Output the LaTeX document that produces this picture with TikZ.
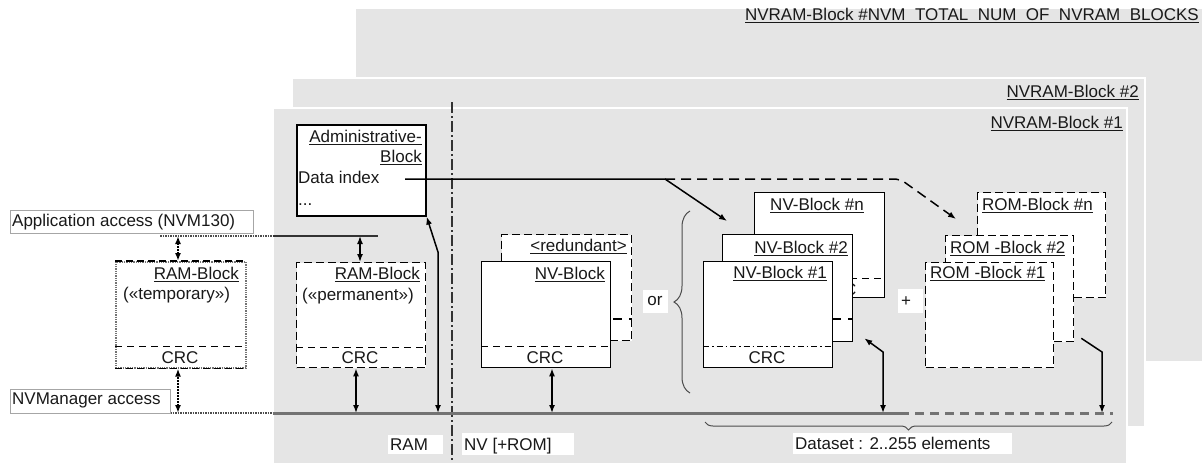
\documentclass[tikz,border=0pt]{standalone}
\usepackage{fontspec}
\setmainfont{Liberation Sans}
\usetikzlibrary{arrows.meta,decorations.pathreplacing}
\newsavebox\ulbox
\newcommand\ulin[1]{\sbox\ulbox{#1}\rlap{\rule[-2.8pt]{\wd\ulbox}{1.3pt}}\usebox\ulbox}
\begin{document}
\begin{tikzpicture}[x=1pt,y=-1pt,
  panel/.style={fill=black!10, draw=white, line width=1.5pt},
  blk/.style={draw=black, fill=white, line width=1.3pt, inner sep=0pt, anchor=north west},
  dblk/.style={blk, dash pattern=on 8pt off 4pt},
  txt/.style={inner sep=0pt, font=\fontsize{17}{20}\selectfont, text=black!90},
  lbox/.style={fill=white, draw=none, inner sep=0pt, anchor=north west},
  crcdash/.style={line width=1.2pt, dash pattern=on 7pt off 5pt},
  crcdot/.style={line width=1.2pt, dash pattern=on 6pt off 3pt on 1.5pt off 3pt},
  thickdash/.style={line width=2.5pt, dash pattern=on 9pt off 7pt},
  conn/.style={line width=1.5pt, {Latex[length=8pt,width=6pt]}-{Latex[length=8pt,width=6pt]}},
  conn1/.style={line width=1.5pt, -{Latex[length=8pt,width=6pt]}},
  dconn/.style={line width=2pt, densely dotted, {Latex[length=8pt,width=6pt]}-{Latex[length=8pt,width=6pt]}},
  busline/.style={line width=3pt, black!55},
  sepline/.style={line width=1.3pt, black!80, dash pattern=on 11pt off 3pt on 2pt off 3pt},
  brc/.style={decorate, line width=1pt, black!70}
]
\useasboundingbox (0,0) rectangle (1203,463);
% panels
\path[panel] (355,8) rectangle (1203,362);
\path[panel] (292,78) rectangle (1145,427);
\path[panel] (273,108) rectangle (1127,466);
\node[txt, anchor=base east] (p3l) at (1199,20) {\ulin{NVRAM-Block \#NVM\ \ TOTAL\ \ NUM\ \ OF\ \ NVRAM\ \ BLOCKS}};
\node[txt, anchor=base east] (p2l) at (1139,97) {\ulin{NVRAM-Block \#2}};
\node[txt, anchor=base east] (p1l) at (1123,128) {\ulin{NVRAM-Block \#1}};
% separator RAM / NV
\coordinate (sepT) at (452,102);
\coordinate (sepB) at (452,466);
\draw[sepline] (sepT) -- (sepB);
% bus lines
\coordinate (bus0) at (160,413);
\coordinate (bus1) at (273,413);
\coordinate (bus2) at (900,413);
\coordinate (bus3) at (1113,413);
\draw[line width=1.5pt, densely dotted, black!70] (bus0) -- (bus1);
\draw[busline] (bus1) -- (bus2);
\draw[busline, dash pattern=on 9pt off 6pt] (bus2) -- (bus3);
\coordinate (app0) at (160,236);
\coordinate (app1) at (273,236);
\coordinate (app2) at (378,236);
\draw[line width=1.5pt, densely dotted, black!70] (app0) -- (app1);
\draw[line width=1.5pt, black!80] (app1) -- (app2);
% access labels
\node[lbox, draw=black!35, line width=0.8pt, minimum width=243pt, minimum height=23pt] (appbox) at (10,210) {};
\node[txt, anchor=base west] (appT) at (12,226) {Application access (NVM130)};
\node[lbox, draw=black!35, line width=0.8pt, minimum width=160pt, minimum height=24pt] (nvmbox) at (10,389) {};
\node[txt, anchor=base west] (nvmT) at (12,404) {NVManager access};
% RAM block temporary
\node[blk, draw=black!55, densely dotted, line width=1.6pt, minimum width=130pt, minimum height=106pt] (temp) at (115,261) {};
\draw[line width=1.3pt, dash pattern=on 7pt off 4pt] (temp.north west) -- (temp.north east);
\draw[line width=1.3pt, dash pattern=on 7pt off 4pt] (temp.south west) -- (temp.south east);
\draw[crcdash] ([yshift=22pt]temp.south west) -- ([yshift=22pt]temp.south east);
\node[txt, anchor=base east] (tempT1) at (239,279) {\ulin{RAM-Block}};
\node[txt, anchor=base west] (tempT2) at (123,299) {(«temporary»)};
\node[txt, anchor=base] (tempC) at (180,363) {CRC};
\coordinate (tA) at (178,236);
\coordinate (tB) at (178,413);
\draw[dconn] (tA) -- (tA |- temp.north);
\draw[dconn] (tB) -- (tB |- temp.south);
% RAM block permanent
\node[dblk, minimum width=129pt, minimum height=105pt] (perm) at (296,262) {};
\draw[crcdash] ([yshift=21pt]perm.south west) -- ([yshift=21pt]perm.south east);
\node[txt, anchor=base east] (permT1) at (420,279) {\ulin{RAM-Block}};
\node[txt, anchor=base west] (permT2) at (302,300) {(«permanent»)};
\node[txt, anchor=base] (permC) at (360,363) {CRC};
\coordinate (pA) at (360,236);
\coordinate (pB) at (356,413);
\draw[conn] (pA) -- (pA |- perm.north);
\draw[conn] (pB) -- (pB |- perm.south);
% Administrative block
\node[blk, line width=1.6pt, minimum width=129pt, minimum height=91pt] (admin) at (296,124) {};
\node[txt, anchor=base east] (admT1) at (422,142) {\ulin{Administrative-}};
\node[txt, anchor=base east] (admT2) at (422,162) {\ulin{Block}};
\node[txt, anchor=base west] (admT3) at (298,183) {Data index};
\node[txt, anchor=base west] (admT4) at (298,205) {...};
\coordinate (aB) at (438,413);
\coordinate (aK) at (438,252);
\draw[conn] (aB) -- (aK) -- (admin.south east);
% redundant NV block
\node[dblk, minimum width=130pt, minimum height=106pt] (red) at (501,234) {};
\node[txt, anchor=base east] (redT) at (627,251) {\ulin{<redundant>}};
\draw[thickdash] (red.west |- 0,319) -- (red.east |- 0,319);
\node[blk, minimum width=129pt, minimum height=106pt] (nvs) at (481,261) {};
\node[txt, anchor=base east] (nvsT) at (605,279) {\ulin{NV-Block}};
\draw[crcdash] ([yshift=22pt]nvs.south west) -- ([yshift=22pt]nvs.south east);
\node[txt, anchor=base] (nvsC) at (545,363) {CRC};
\coordinate (nB) at (552,413);
\draw[conn] (nB) -- (nB |- nvs.south);
% or
\node[lbox, minimum width=25pt, minimum height=23pt] (orbox) at (643,290) {};
\node[txt] (orT) at (655,301) {or};
\coordinate (brT) at (690,211);
\coordinate (brB) at (690,393);
\draw[brc, decoration={brace, amplitude=16pt}] (brB) -- (brT);
% NV block stack
\node[blk, minimum width=130pt, minimum height=105pt] (nvn) at (754,192) {};
\node[txt, anchor=base] (nvnT) at (817,210) {\ulin{NV-Block \#n}};
\draw[crcdash] ([yshift=20pt]nvn.south west) -- ([yshift=20pt]nvn.south east);
\node[txt, anchor=base] (nvnC) at (838,295) {CRC};
\node[blk, minimum width=130pt, minimum height=107pt] (nv2) at (722,234) {};
\node[txt, anchor=base east] (nv2T) at (848,253) {\ulin{NV-Block \#2}};
\draw[thickdash, dash phase=2pt] (nv2.west |- 0,319) -- (nv2.east |- 0,319);
\node[blk, minimum width=129pt, minimum height=106pt] (nv1) at (703,261) {};
\node[txt, anchor=base east] (nv1T) at (827,278) {\ulin{NV-Block \#1}};
\draw[crcdot] ([yshift=22pt]nv1.south west) -- ([yshift=22pt]nv1.south east);
\node[txt, anchor=base] (nv1C) at (767,363) {CRC};
\coordinate (n2B) at (883,413);
\coordinate (n2K) at (883,352);
\coordinate (n2T) at ([xshift=11pt,yshift=4pt]nv2.south east);
\draw[conn] (n2B) -- (n2K) -- (n2T);
% plus
\node[lbox, minimum width=25pt, minimum height=24pt] (plbox) at (898,289) {};
\node[txt, anchor=base west] (plT) at (901,306) {+};
% ROM blocks
\node[dblk, minimum width=128pt, minimum height=105pt] (romn) at (977,192) {};
\node[txt, anchor=base west] (romnT) at (982,210) {\ulin{ROM-Block \#n}};
\node[dblk, minimum width=128pt, minimum height=106pt] (rom2) at (945,235) {};
\node[txt, anchor=base west] (rom2T) at (950,253) {\ulin{ROM -Block \#2}};
\node[dblk, minimum width=128pt, minimum height=105pt] (rom1) at (925,262) {};
\node[txt, anchor=base west] (rom1T) at (930,278) {\ulin{ROM -Block \#1}};
\coordinate (rS) at ([xshift=7pt,yshift=4pt]rom2.south east);
\coordinate (rK) at (1102,352);
\coordinate (rB) at (1102,413);
\draw[conn1] (rS) -- (rK) -- (rB);
% data index pointers
\coordinate (diS) at (405,179);
\coordinate (diK) at (665,179);
\coordinate (diD) at (900,179);
\coordinate (diT1) at (727,221);
\coordinate (diT2) at (956,219);
\draw[conn1] (diS) -- (diK) -- (diT1);
\draw[conn1, dash pattern=on 10pt off 6pt, rounded corners=6pt] (diK) -- (diD) -- (diT2);
% dataset brace
\coordinate (dsR) at (1112,422);
\coordinate (dsL) at (705,422);
\draw[brc, decoration={brace, amplitude=8pt}] (dsR) -- (dsL);
\node[lbox, minimum width=219pt, minimum height=21pt] (dsbox) at (793,433) {};
\node[txt, anchor=base west] (dsT) at (795,449) {Dataset : 2..255 elements};
% RAM / NV labels
\node[lbox, minimum width=55pt, minimum height=19pt] (rambox) at (388,435) {};
\node[txt, anchor=base west] (ramT) at (390,450) {RAM};
\node[lbox, minimum width=112pt, minimum height=22pt] (nvbox) at (462,433) {};
\node[txt, anchor=base west] (nvT) at (464,450) {NV [+ROM]};
\end{tikzpicture}
\end{document}
